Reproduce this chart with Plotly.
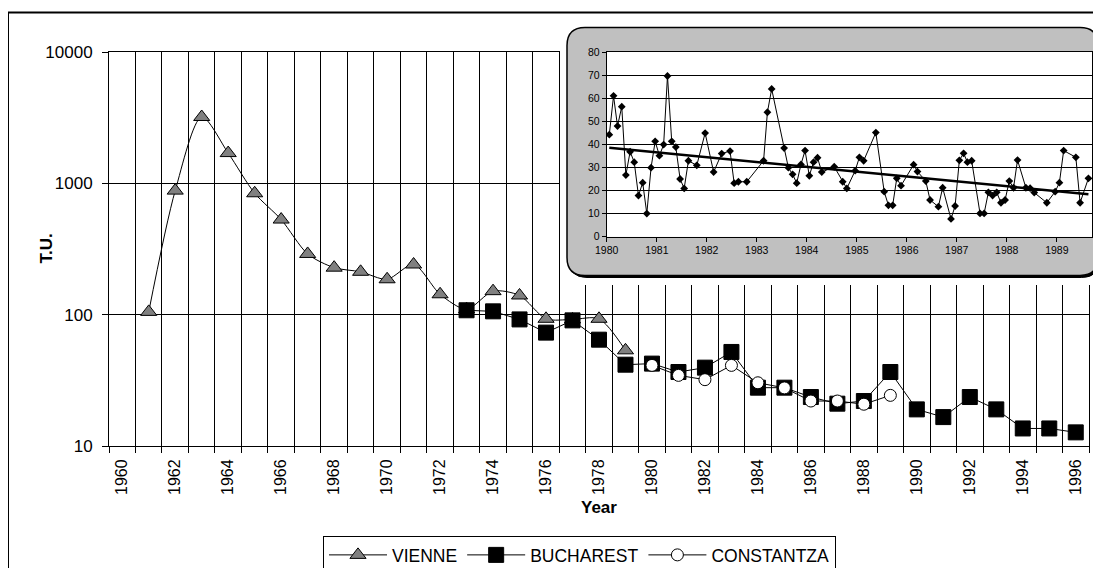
import numpy as np
import pandas as pd
import plotly.graph_objects as go

# page body has an 8px default margin: figure is drawn 8px in from the top-left
OFF = 8
W, H = 1101 - OFF, 568 - OFF
FONT = "Arial, Liberation Sans, sans-serif"

# ---------------- data (main chart) ----------------
years = list(range(1960, 1997))
vienne_years = list(range(1961, 1980))
vienne = [105, 880, 3200, 1700, 840, 530, 290, 228, 212, 186, 241, 143, 110,
          151, 140, 93, 92, 93, 53.5]
bucharest_years = list(range(1973, 1997))
bucharest = [108, 106, 92, 73, 90.5, 64.5, 41.6, 42.4, 36.6, 39.5, 52, 27.8,
             27.8, 23.6, 21, 22, 36.6, 19, 16.6, 23.6, 19, 13.6, 13.6, 12.7]
constantza_years = list(range(1980, 1990))
constantza = [41.1, 34.5, 32, 41.1, 30.3, 27.7, 22.0, 22.0, 20.8, 24.3]
y_ticks = [10, 100, 1000, 10000]

# ---------------- data (inset, monthly) ----------------
inset_months = [
    "1980-01", "1980-02", "1980-03", "1980-04", "1980-05", "1980-06", "1980-07",
    "1980-08", "1980-09", "1980-10", "1980-11", "1980-12",
    "1981-01", "1981-02", "1981-03", "1981-04", "1981-05", "1981-06", "1981-07",
    "1981-08", "1981-10", "1981-12",
    "1982-02", "1982-04", "1982-06", "1982-07", "1982-08", "1982-10",
    "1983-02", "1983-03", "1983-04", "1983-07", "1983-08", "1983-09", "1983-10",
    "1983-11", "1983-12",
    "1984-01", "1984-02", "1984-03", "1984-04", "1984-07", "1984-09", "1984-10",
    "1984-12",
    "1985-01", "1985-02", "1985-05", "1985-07", "1985-08", "1985-09", "1985-10",
    "1985-11",
    "1986-02", "1986-03", "1986-05", "1986-06", "1986-08", "1986-09", "1986-11",
    "1986-12",
    "1987-01", "1987-02", "1987-03", "1987-04", "1987-06", "1987-07", "1987-08",
    "1987-09", "1987-10", "1987-11", "1987-12",
    "1988-01", "1988-02", "1988-03", "1988-05", "1988-06", "1988-07", "1988-10",
    "1988-12",
    "1989-01", "1989-02", "1989-05", "1989-06", "1989-08",
]
inset_values = [
    44.2, 61, 47.9, 56.3, 26.7, 36.8, 32.3, 17.8, 23.4, 10, 29.9, 41.3,
    35.1, 39.9, 69.6, 41.3, 38.8, 25, 20.9, 32.9, 30.9, 44.9,
    28, 36, 37.1, 23.2, 23.8, 23.8,
    32.9, 53.9, 64, 38.4, 29.9, 27, 23.2, 31.3, 37.3,
    26.4, 32.3, 34.2, 28, 30.3, 23.8, 20.9, 28.6,
    34.4, 32.9, 45.1, 19.5, 13.6, 13.6, 25.3, 22.1,
    31.2, 28.2, 24.1, 15.9, 13, 21.2, 7.7, 13.3,
    33.1, 36.1, 32.3, 32.9, 10.1, 10.1, 19.2, 17.8, 19.2, 14.7, 15.9,
    24.1, 21.2, 33.2, 21.2, 21, 19.1, 14.7, 19.5,
    23.4, 37.3, 34.4, 14.7, 25.3,
]

# ---------------- layout geometry (page pixels) ----------------
def px(x):
    return (x - OFF) / W

def py(y):
    return 1 - (y - OFF) / H

MAIN_L, MAIN_R, MAIN_T, MAIN_B = 109, 1089, 52, 446
IN_L, IN_R, IN_T, IN_B = 606.7, 1092, 52, 236.7
BOX_L, BOX_R, BOX_T, BOX_B = 567, 1098, 27.5, 275.5
BOXAX = (560, 1101, 20, 285)

cats = [str(y) for y in years]

fig = go.Figure()

mk_line = dict(color="black", width=1)
fig.add_trace(go.Scatter(
    x=[str(y) for y in vienne_years], y=vienne, name="VIENNE",
    mode="lines+markers", line=dict(color="black", width=1, shape="spline", smoothing=0.8),
    marker=dict(symbol="triangle-up", size=14, color="#808080", line=mk_line),
    xaxis="x", yaxis="y"))
fig.add_trace(go.Scatter(
    x=[str(y) for y in bucharest_years], y=bucharest, name="BUCHAREST",
    mode="lines+markers", line=dict(color="black", width=1),
    marker=dict(symbol="square", size=15, color="black", line=mk_line),
    xaxis="x", yaxis="y"))
fig.add_trace(go.Scatter(
    x=[str(y) for y in constantza_years], y=constantza, name="CONSTANTZA",
    mode="lines+markers", line=dict(color="black", width=1),
    marker=dict(symbol="circle", size=12, color="white", line=mk_line),
    xaxis="x", yaxis="y"))

# inset series
inset_dates = pd.to_datetime([m + "-20" for m in inset_months])
fig.add_trace(go.Scatter(
    x=inset_dates, y=inset_values, mode="lines+markers", showlegend=False,
    line=dict(color="black", width=1),
    marker=dict(symbol="diamond", size=6, color="black"),
    xaxis="x3", yaxis="y3"))

# linear trend of inset series
dec = np.array([d.year + (d.dayofyear - 1) / 365.25 for d in inset_dates])
slope, icpt = np.polyfit(dec, np.array(inset_values), 1)
tr_x = [inset_dates[0], inset_dates[-1]]
tr_y = [slope * dec[0] + icpt, slope * dec[-1] + icpt]
fig.add_trace(go.Scatter(
    x=tr_x, y=tr_y, mode="lines", showlegend=False,
    line=dict(color="black", width=2.5), xaxis="x3", yaxis="y3"))

# ---------------- shapes ----------------
def rounded_path(l, t, r, b, rad):
    return (f"M {l+rad},{t} L {r-rad},{t} Q {r},{t} {r},{t+rad} "
            f"L {r},{b-rad} Q {r},{b} {r-rad},{b} L {l+rad},{b} "
            f"Q {l},{b} {l},{b-rad} L {l},{t+rad} Q {l},{t} {l+rad},{t} Z")

shapes = [
    # outer chart border (only left/top visible)
    dict(type="rect", xref="paper", yref="paper", x0=px(8), x1=px(1101 + 10),
         y0=py(12.5), y1=py(568 + 10), line=dict(color="black", width=2),
         fillcolor="rgba(0,0,0,0)", layer="below"),
    # inset box shadow
    dict(type="path", xref="x2", yref="y2",
         path=rounded_path(BOX_L + 2, BOX_T + 2, BOX_R + 1.5, BOX_B + 2, 18),
         fillcolor="black", line=dict(color="black", width=1), layer="below"),
    # inset box
    dict(type="path", xref="x2", yref="y2",
         path=rounded_path(BOX_L, BOX_T, BOX_R, BOX_B, 18),
         fillcolor="#C0C0C0", line=dict(color="black", width=1.5), layer="below"),
    # inset plot area
    dict(type="rect", xref="x2", yref="y2", x0=IN_L, x1=IN_R, y0=IN_T, y1=IN_B,
         fillcolor="white", line=dict(width=0), layer="below"),
]

fig.update_layout(
    width=W, height=H,
    margin=dict(l=0, r=0, t=0, b=0, pad=0, autoexpand=False),
    paper_bgcolor="white", plot_bgcolor="white",
    font=dict(family=FONT, color="black", size=16),
    showlegend=True,
    legend=dict(orientation="h", x=px(323), y=py(536), xanchor="left", yanchor="top",
                bordercolor="black", borderwidth=1, font=dict(size=17.5, family=FONT),
                itemwidth=58, bgcolor="white", tracegroupgap=0),
    xaxis=dict(domain=[px(MAIN_L), px(MAIN_R)], anchor="y", type="category",
               categoryorder="array", categoryarray=cats, range=[-0.5, len(cats) - 0.5],
               tickmode="array", tickvals=cats,
               ticktext=[c if int(c) % 2 == 0 else "" for c in cats],
               tickson="boundaries", tickangle=-90, ticks="outside", ticklen=6,
               tickcolor="black", tickwidth=1, showgrid=True, gridcolor="black",
               gridwidth=1, showline=True, linecolor="black", linewidth=1, mirror=True,
               tickfont=dict(size=16, family=FONT, color="black"),
               ticklabelstandoff=6, fixedrange=True, automargin=False),
    yaxis=dict(domain=[py(MAIN_B), py(MAIN_T)], anchor="x", type="log", range=[1, 4],
               tickmode="array", tickvals=y_ticks, ticktext=[str(v) for v in y_ticks],
               ticks="outside", ticklen=6, tickcolor="black", showgrid=True,
               gridcolor="black", gridwidth=1, showline=True, linecolor="black",
               linewidth=1, mirror=True, zeroline=False,
               tickfont=dict(size=17, family=FONT, color="black"),
               ticklabelstandoff=6, fixedrange=True, automargin=False),
    xaxis2=dict(domain=[px(BOXAX[0]), px(BOXAX[1])], anchor="y2", range=[BOXAX[0], BOXAX[1]],
                visible=False, fixedrange=True),
    yaxis2=dict(domain=[py(BOXAX[3]), py(BOXAX[2])], anchor="x2", range=[BOXAX[3], BOXAX[2]],
                visible=False, fixedrange=True),
    xaxis3=dict(domain=[px(IN_L), px(IN_R)], anchor="y3", type="date",
                range=["1980-01-01", "1989-09-15"], tickmode="linear",
                tick0="1980-01-01", dtick="M12", tickformat="%Y",
                ticks="outside", ticklen=4, tickcolor="black", showgrid=False,
                showline=True, linecolor="black", linewidth=1, mirror=True,
                tickfont=dict(size=10.5, family=FONT, color="black"), fixedrange=True,
                automargin=False),
    yaxis3=dict(domain=[py(IN_B), py(IN_T)], anchor="x3", range=[0, 80],
                tickmode="linear", tick0=0, dtick=10, ticks="outside", ticklen=4,
                tickcolor="black", showgrid=True, gridcolor="black", gridwidth=1,
                showline=True, linecolor="black", linewidth=1, mirror=True,
                zeroline=False, tickfont=dict(size=10.5, family=FONT, color="black"),
                fixedrange=True, automargin=False),
    shapes=shapes,
    annotations=[
        dict(text="<b>T.U.</b>", x=px(34), y=py(249), xref="paper", yref="paper",
             showarrow=False, textangle=-90, font=dict(size=17, family=FONT)),
        dict(text="<b>Year</b>", x=px(599), y=py(519), xref="paper", yref="paper",
             showarrow=False, font=dict(size=17, family=FONT)),
    ],
)

fig.write_html("out.html", config={"displayModeBar": False})
